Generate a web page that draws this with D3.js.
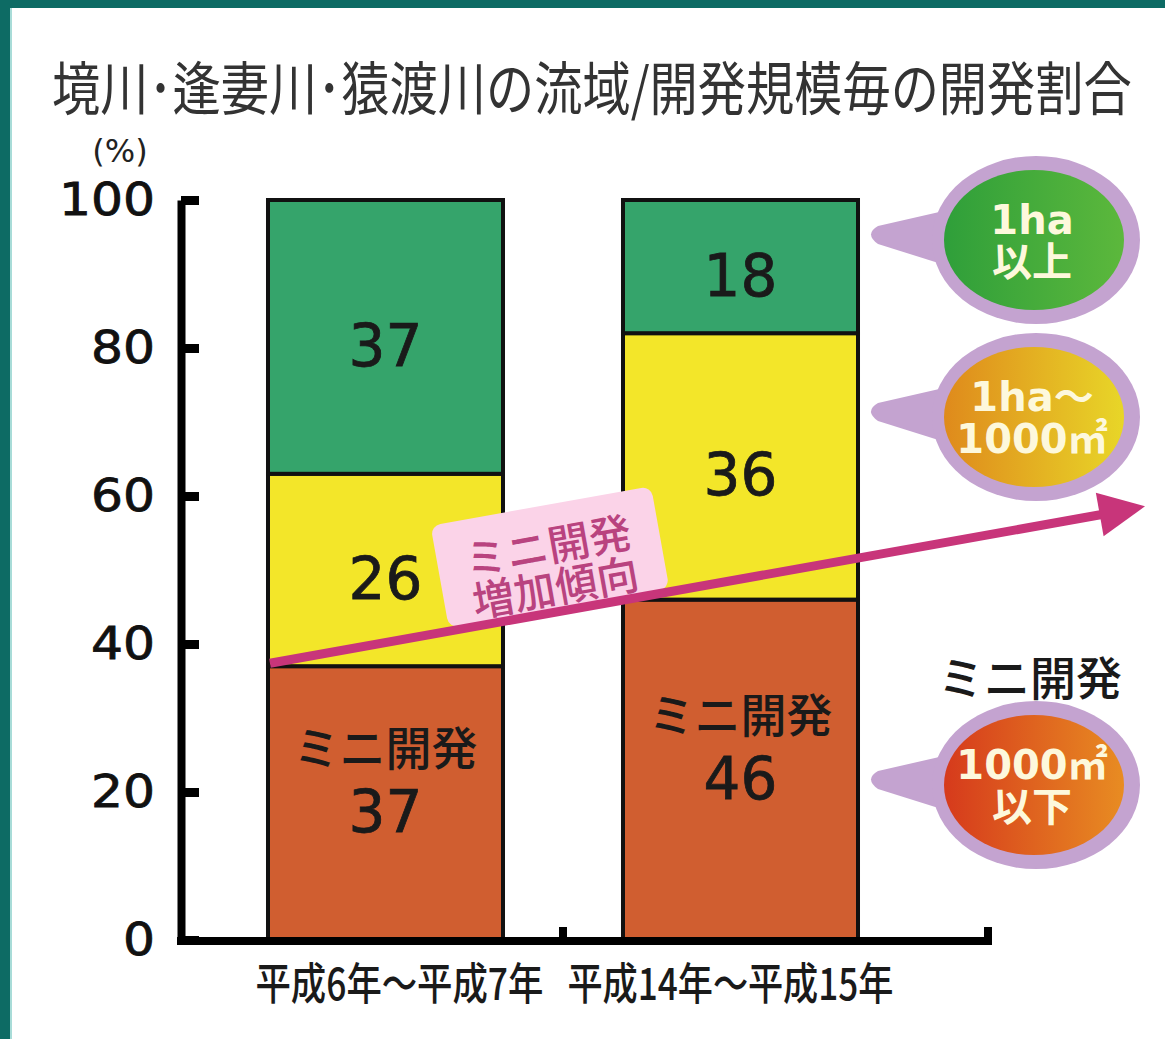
<!DOCTYPE html>
<html>
<head>
<meta charset="utf-8">
<script src="https://cdn.jsdelivr.net/npm/d3@7"></script>
<style>
  html, body { margin: 0; padding: 0; background: #fff; }
  svg { display: block; }
</style>
</head>
<body>
<div id="chart"></div>
<script>
// data
const title = "境川･逢妻川･猿渡川の流域/開発規模毎の開発割合";
const categories = ["平成6年〜平成7年", "平成14年〜平成15年"];
const small = [37, 46];   // 1000㎡以下 (ミニ開発)
const medium = [26, 36];  // 1ha〜1000㎡
const large = [37, 18];   // 1ha以上
const yTicks = [0, 20, 40, 60, 80, 100];
const seriesKeys = ["small", "medium", "large"];
const legendLabels = [["1ha", "以上"], ["1ha〜", "1000㎡"], ["1000㎡", "以下"]];
const trendLabel = ["ミニ開発", "増加傾向"];
const trendValues = [37, 58.6]; // arrow start / end, %

const W = 1165, H = 1039;
const barColors = { small: "#d05e30", medium: "#f3e629", large: "#35a46b" };

const svg = d3.select("#chart").append("svg")
  .attr("width", W).attr("height", H)
  .style("font-family", "'Noto Sans CJK JP', 'DejaVu Sans', sans-serif");

// squeeze a text horizontally to a given width (condensed look of the original)
function fitWidth(sel, left, baseline, width, anchor) {
  const w = sel.node().getComputedTextLength();
  const s = width / w;
  const tx = anchor === "middle" ? left - width / 2 : left;
  sel.attr("x", 0).attr("y", 0)
    .attr("transform", `translate(${tx},${baseline}) scale(${s},1)`);
}

// gradients for legend bubbles
const defs = svg.append("defs");
const grads = [
  ["g-large", "#2f9f3a", "#5cb83c"],
  ["g-medium", "#df8a1c", "#e8d628"],
  ["g-small", "#d63a1c", "#e88c22"]
];
grads.forEach(([id, c0, c1]) => {
  const lg = defs.append("linearGradient").attr("id", id)
    .attr("x1", "0%").attr("x2", "100%").attr("y1", "0%").attr("y2", "0%");
  lg.append("stop").attr("offset", "0%").attr("stop-color", c0);
  lg.append("stop").attr("offset", "100%").attr("stop-color", c1);
});

// frame
svg.append("rect").attr("width", W).attr("height", H).attr("fill", "#fff");
svg.append("rect").attr("x", 0).attr("y", 0).attr("width", W).attr("height", 8).attr("fill", "#0d6b64");
svg.append("rect").attr("x", 0).attr("y", 0).attr("width", 10).attr("height", H).attr("fill", "#0d6b64");
svg.append("rect").attr("x", 10).attr("y", 8).attr("width", 2).attr("height", H).attr("fill", "#a8dcd8");

// title
const titleText = svg.append("text")
  .attr("font-size", 58).attr("fill", "#333")
  .text(title);
fitWidth(titleText, 52, 110, 1080, "start");

svg.append("text")
  .attr("x", 120).attr("y", 162).attr("text-anchor", "middle")
  .attr("font-family", "'DejaVu Sans', sans-serif")
  .attr("font-size", 32).attr("fill", "#222")
  .text("(%)");

// scales
const y = d3.scaleLinear().domain([0, 100]).range([940, 200]);
const x = d3.scaleBand().domain(categories).range([178, 948])
  .paddingInner(0.338).paddingOuter(0.2535);

// stacked bars
const rows = categories.map((c, i) => ({ cat: c, small: small[i], medium: medium[i], large: large[i] }));
const stacked = d3.stack().keys(seriesKeys)(rows);

const bars = svg.append("g");
stacked.forEach(layer => {
  bars.selectAll(null)
    .data(layer)
    .enter()
    .append("rect")
    .attr("x", d => x(d.data.cat))
    .attr("y", d => y(d[1]))
    .attr("width", x.bandwidth())
    .attr("height", d => y(d[0]) - y(d[1]))
    .attr("fill", barColors[layer.key])
    .attr("stroke", "#111")
    .attr("stroke-width", 4);
});

// value labels
const labels = svg.append("g").attr("text-anchor", "middle").attr("fill", "#1a1a1a");
stacked.forEach(layer => {
  labels.selectAll(null)
    .data(layer)
    .enter()
    .append("text")
    .attr("x", d => x(d.data.cat) + x.bandwidth() / 2)
    .attr("y", d => y((d[0] + d[1]) / 2) + 9)
    .attr("dominant-baseline", "central")
    .attr("font-family", "'DejaVu Sans', sans-serif")
    .attr("font-size", 58)
    .attr("stroke", "#1a1a1a").attr("stroke-width", 0.8)
    .text(d => d[1] - d[0]);
});
labels.selectAll(null)
  .data(stacked[0])
  .enter()
  .append("text")
  .attr("x", d => x(d.data.cat) + x.bandwidth() / 2)
  .attr("y", d => y((d[0] + d[1]) / 2) - 58)
  .attr("dominant-baseline", "central")
  .attr("font-size", 46).attr("font-weight", 500)
  .text("ミニ開発");

// y axis
const yAxis = svg.append("g")
  .attr("transform", "translate(181,0)")
  .call(d3.axisLeft(y).tickValues(yTicks).tickSizeInner(-18).tickSizeOuter(0).tickPadding(26));
yAxis.select(".domain").attr("stroke", "#000").attr("stroke-width", 8);
yAxis.selectAll(".tick line").attr("stroke", "#000").attr("stroke-width", 9);
yAxis.selectAll(".tick text")
  .attr("font-family", "'DejaVu Sans', sans-serif")
  .attr("font-size", 44).attr("fill", "#111")
  .attr("stroke", "#111").attr("stroke-width", 0.8)
  .attr("textLength", d => String(d).length * 32)
  .attr("lengthAdjust", "spacingAndGlyphs");

// x axis
const axisEnd = 988;
const midTick = x(categories[1]) - x.step() * x.paddingInner() / 2;
const y0 = y(0) + 1;
svg.append("path")
  .attr("d", `M177,${y0}H${axisEnd}V${y0 - 14}`)
  .attr("fill", "none").attr("stroke", "#000").attr("stroke-width", 8);
svg.append("line")
  .attr("x1", midTick).attr("x2", midTick).attr("y1", y0).attr("y2", y0 - 14)
  .attr("stroke", "#000").attr("stroke-width", 8);

const xLabelWidth = [288, 326];
svg.append("g").selectAll("text")
  .data(categories)
  .enter()
  .append("text")
  .attr("font-size", 44).attr("font-weight", 500).attr("fill", "#1a1a1a")
  .text(d => d)
  .each(function (d, i) {
    const cx = x(d) + x.bandwidth() / 2 + (i === 0 ? 14 : -10);
    fitWidth(d3.select(this), cx, 1000, xLabelWidth[i], "middle");
  });

// trend arrow
const ax0 = x(categories[0]) + 2, ay0 = y(trendValues[0]) - 3;
const ax1 = 1145, ay1 = y(trendValues[1]);
const ang = Math.atan2(ay1 - ay0, ax1 - ax0);
const angDeg = ang * 180 / Math.PI;

const tl = svg.append("g").attr("transform", `translate(551,563) rotate(${angDeg})`);
tl.append("rect")
  .attr("x", -112).attr("y", -58).attr("width", 224).attr("height", 104)
  .attr("rx", 10).attr("fill", "#fbd3e8");

const headLen = 46;
svg.append("line")
  .attr("x1", ax0).attr("y1", ay0)
  .attr("x2", ax1 - headLen * Math.cos(ang) + 2).attr("y2", ay1 - headLen * Math.sin(ang))
  .attr("stroke", "#c8357a").attr("stroke-width", 9);
svg.append("path")
  .attr("transform", `translate(${ax1},${ay1}) rotate(${angDeg})`)
  .attr("d", `M0,0L${-headLen},-22L${-headLen},22Z`)
  .attr("fill", "#c8357a");

tl.selectAll("text")
  .data(trendLabel)
  .enter()
  .append("text")
  .attr("x", 0).attr("y", (d, i) => i === 0 ? -20 : 22)
  .attr("text-anchor", "middle").attr("dominant-baseline", "central")
  .attr("font-size", 42).attr("font-weight", 500).attr("fill", "#b9437f")
  .text(d => d);

// legend bubbles
const bubbleY = [240, 417, 785];
const bubbleFill = ["url(#g-large)", "url(#g-medium)", "url(#g-small)"];
const bx = 1036;
legendLabels.forEach((lines, i) => {
  const g = svg.append("g").attr("transform", `translate(${bx},${bubbleY[i]})`);
  g.append("path")
    .attr("d", "M-88,-30L-158,-14Q-172,-6-158,4L-88,26Z")
    .attr("fill", "#c4a3d0");
  g.append("ellipse").attr("rx", 104).attr("ry", 84).attr("fill", "#c4a3d0");
  g.append("ellipse").attr("cx", -2).attr("rx", 90).attr("ry", 70).attr("fill", bubbleFill[i]);
  g.selectAll("text")
    .data(lines)
    .enter()
    .append("text")
    .attr("x", -4).attr("y", (d, j) => j === 0 ? -20 : 22)
    .attr("text-anchor", "middle").attr("dominant-baseline", "central")
    .attr("font-family", "'DejaVu Sans', 'Noto Sans CJK JP', sans-serif")
    .attr("font-size", 40).attr("font-weight", "bold").attr("fill", "#fdf8dc")
    .text(d => d);
});

svg.append("text")
  .attr("x", 1030).attr("y", 675)
  .attr("text-anchor", "middle").attr("dominant-baseline", "central")
  .attr("font-size", 46).attr("font-weight", 500).attr("fill", "#1a1a1a")
  .text("ミニ開発");
</script>
</body>
</html>
